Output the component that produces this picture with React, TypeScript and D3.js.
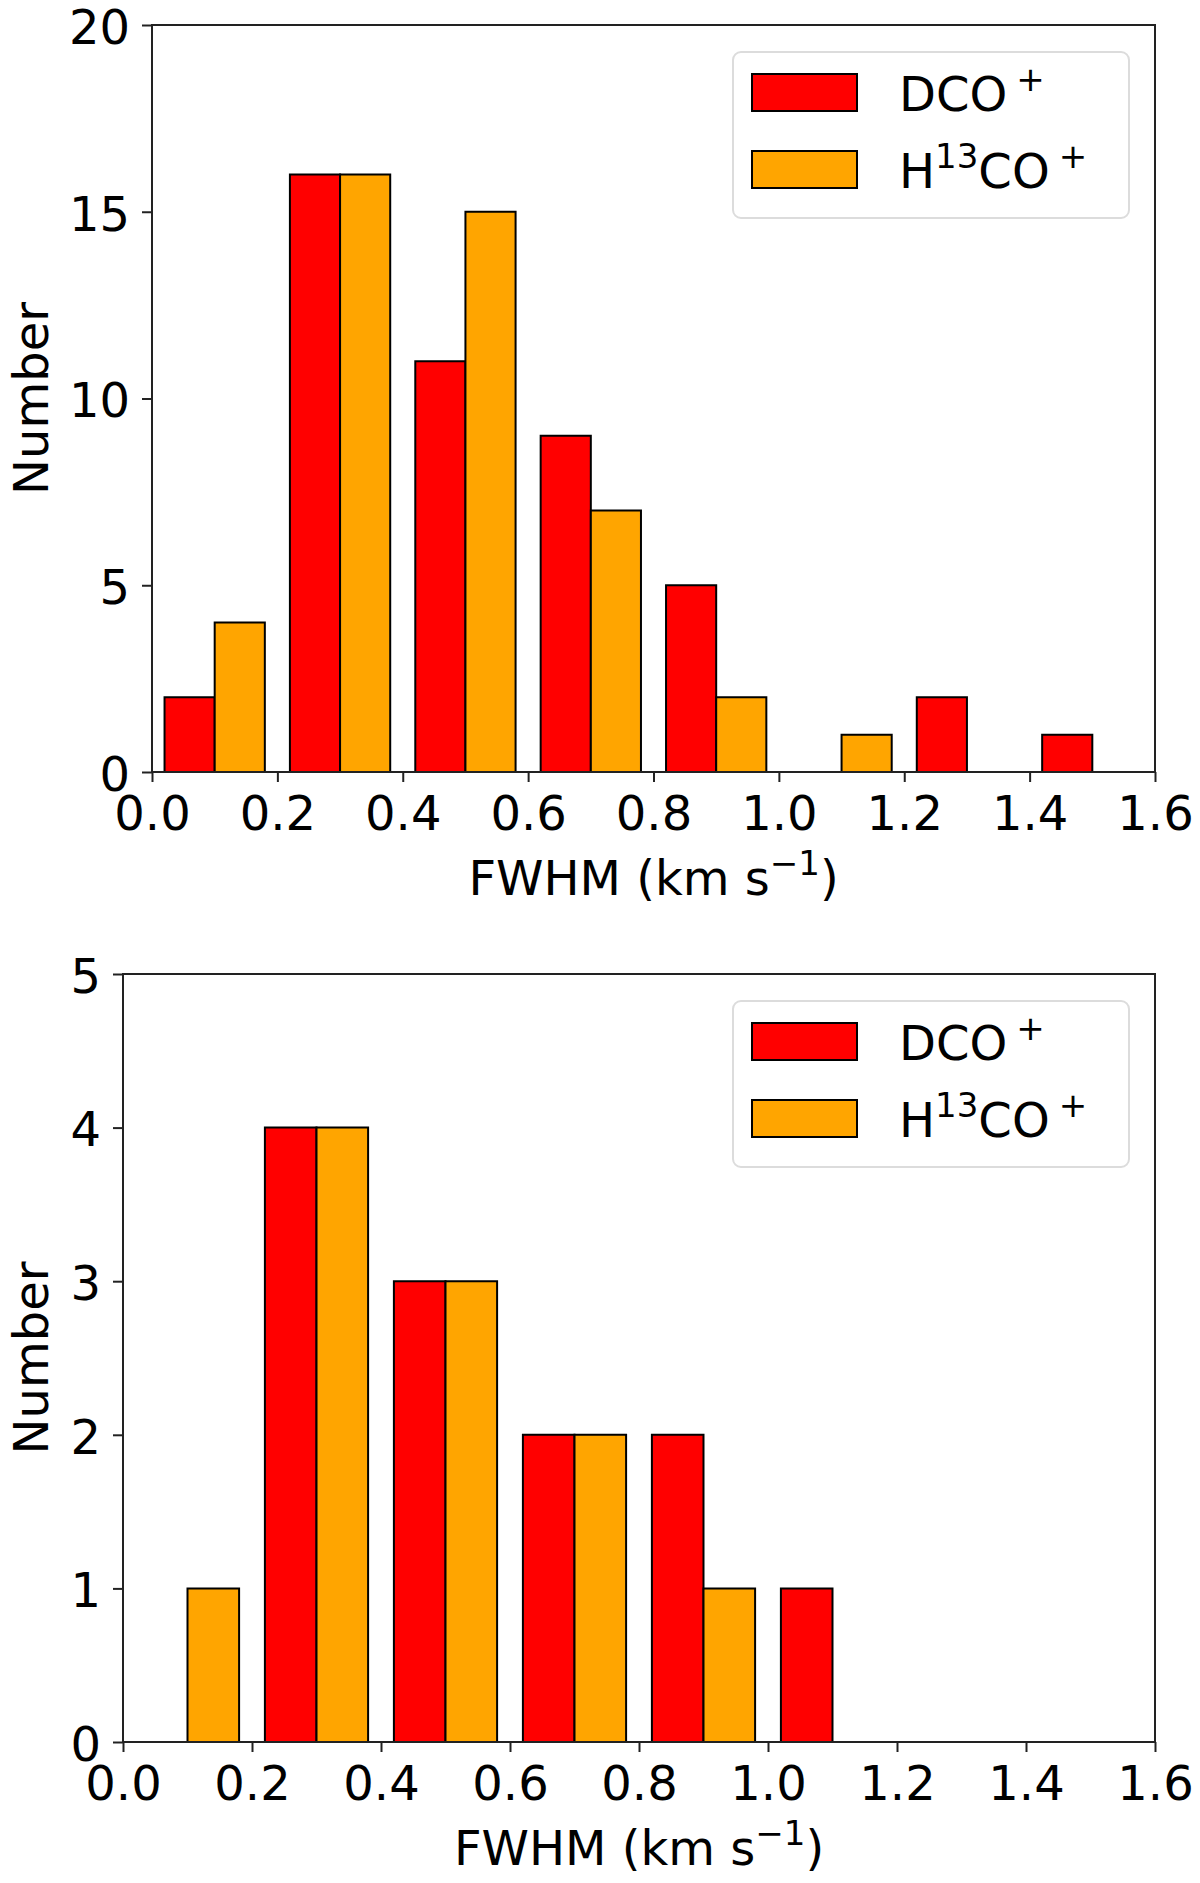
import { useEffect, useRef } from "react"
import * as d3 from "d3"

// bin edges of the FWHM histogram (km/s)
const binEdges = [0, 0.2, 0.4, 0.6, 0.8, 1.0, 1.2, 1.4, 1.6]

// counts per bin, upper panel
const dcoTop = [2, 16, 11, 9, 5, 0, 2, 1]
const h13coTop = [4, 16, 15, 7, 2, 1, 0, 0]

// counts per bin, lower panel
const dcoBottom = [0, 4, 3, 2, 2, 1, 0, 0]
const h13coBottom = [1, 4, 3, 2, 1, 0, 0, 0]

const yTicksTop = [0, 5, 10, 15, 20]
const yTicksBottom = [0, 1, 2, 3, 4, 5]

const colors = ["#ff0000", "#ffa500"]
const FONT = "'DejaVu Sans', Verdana, sans-serif"
const FS = 48
const SUP = 34

export default function App() {
  const svgRef = useRef<SVGSVGElement>(null)

  useEffect(() => {
    if (!svgRef.current) return
    document.body.style.margin = "0"

    const svg = d3.select(svgRef.current)
    svg.selectAll("*").remove()

    const panels = [
      { series: [dcoTop, h13coTop], yMax: 20, yTicks: yTicksTop, left: 152, right: 1155, top: 25, bottom: 772 },
      { series: [dcoBottom, h13coBottom], yMax: 5, yTicks: yTicksBottom, left: 123, right: 1155, top: 974, bottom: 1742 },
    ]

    panels.forEach((p) => {
      const x = d3.scaleLinear().domain([0, 1.6]).range([p.left, p.right])
      const y = d3.scaleLinear().domain([0, p.yMax]).range([p.bottom, p.top])
      const g = svg.append("g")

      // bars (rwidth 0.8, two series side by side)
      p.series.forEach((counts, s) => {
        counts.forEach((v, i) => {
          const bw = binEdges[i + 1] - binEdges[i]
          const half = (bw * 0.8) / 2
          const x0 = x(binEdges[i] + bw * 0.1 + s * half)
          const x1 = x(binEdges[i] + bw * 0.1 + (s + 1) * half)
          g.append("path")
            .attr("d", `M${x0},${y(0)}V${y(v)}H${x1}V${y(0)}Z`)
            .attr("fill", colors[s])
            .attr("stroke", "#000")
            .attr("stroke-width", 2)
            .attr("stroke-linejoin", "miter")
        })
      })

      // axes
      const xAxis = g
        .append("g")
        .attr("transform", `translate(0,${p.bottom})`)
        .call(
          d3
            .axisBottom(x)
            .tickValues(binEdges)
            .tickSize(10)
            .tickPadding(14)
            .tickFormat((d) => d3.format(".1f")(d as number)),
        )
      const yAxis = g
        .append("g")
        .attr("transform", `translate(${p.left},0)`)
        .call(d3.axisLeft(y).tickValues(p.yTicks).tickSize(10).tickPadding(12).tickFormat(d3.format("d")))

      ;[xAxis, yAxis].forEach((ax) => {
        ax.select(".domain").remove()
        ax.selectAll(".tick line").attr("stroke", "#222").attr("stroke-width", 2)
        ax.selectAll(".tick text").attr("font-family", FONT).attr("font-size", FS).attr("fill", "#000")
      })
      yAxis.selectAll(".tick text").attr("dy", "0.38em")

      // frame
      g.append("rect")
        .attr("x", p.left)
        .attr("y", p.top)
        .attr("width", p.right - p.left)
        .attr("height", p.bottom - p.top)
        .attr("fill", "none")
        .attr("stroke", "#222")
        .attr("stroke-width", 2)

      // axis labels
      const xl = g
        .append("text")
        .attr("x", (p.left + p.right) / 2)
        .attr("y", p.bottom + 123)
        .attr("text-anchor", "middle")
        .attr("font-family", FONT)
        .attr("font-size", FS)
      xl.append("tspan").text("FWHM (km s")
      xl.append("tspan").attr("dy", -20).attr("font-size", SUP).text("\u22121")
      xl.append("tspan").attr("dy", 20).text(")")

      g.append("text")
        .attr("transform", `translate(48,${(p.top + p.bottom) / 2}) rotate(-90)`)
        .attr("text-anchor", "middle")
        .attr("font-family", FONT)
        .attr("font-size", FS)
        .text("Number")

      // legend
      const lw = 396
      const lh = 166
      const lx = p.right - 26 - lw
      const ly = p.top + 27
      const leg = g.append("g")
      leg.append("rect")
        .attr("x", lx)
        .attr("y", ly)
        .attr("width", lw)
        .attr("height", lh)
        .attr("rx", 8)
        .attr("fill", "#fff")
        .attr("fill-opacity", 0.8)
        .attr("stroke", "#dcdcdc")
        .attr("stroke-width", 2)

      const rows = [22, 99]
      rows.forEach((dy, s) => {
        leg.append("rect")
          .attr("x", lx + 19)
          .attr("y", ly + dy)
          .attr("width", 105)
          .attr("height", 37)
          .attr("fill", colors[s])
          .attr("stroke", "#000")
          .attr("stroke-width", 2)
        const t = leg
          .append("text")
          .attr("x", lx + 166)
          .attr("y", ly + dy + 37)
          .attr("font-family", FONT)
          .attr("font-size", FS)
        if (s === 0) {
          t.append("tspan").text("DCO")
          t.append("tspan").attr("dx", 9).attr("dy", -20).attr("font-size", SUP).text("+")
        } else {
          t.append("tspan").text("H")
          t.append("tspan").attr("dy", -20).attr("font-size", SUP).text("13")
          t.append("tspan").attr("dy", 20).text("CO")
          t.append("tspan").attr("dx", 9).attr("dy", -20).attr("font-size", SUP).text("+")
        }
      })
    })
  }, [])

  return (
    <div>
      <svg ref={svgRef} width={1200} height={1883} style={{ display: "block", background: "#fff" }} />
    </div>
  )
}
